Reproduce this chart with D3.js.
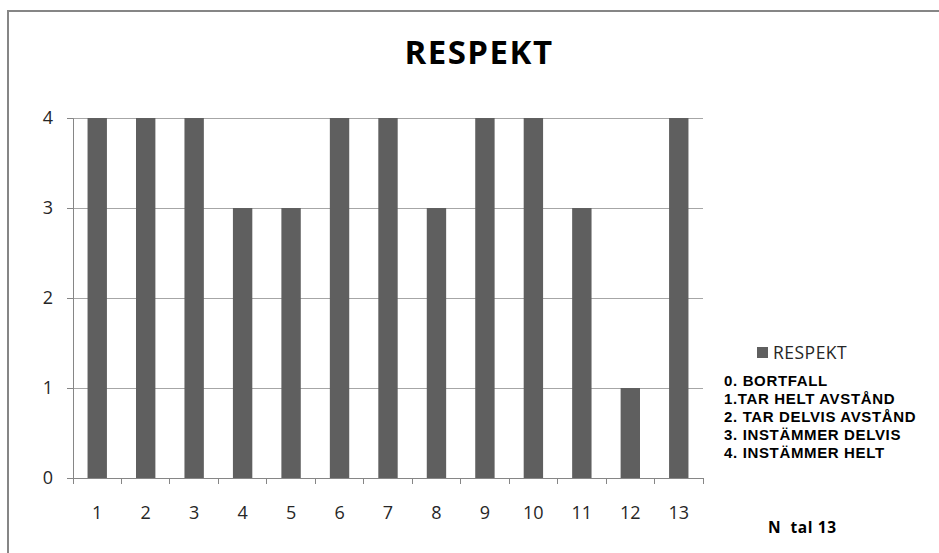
<!DOCTYPE html>
<html><head><meta charset="utf-8">
<script src="https://cdn.jsdelivr.net/npm/d3@7"></script>
<style>
html,body{margin:0;padding:0;background:#fff;overflow:hidden}
text{font-family:"Open Sans",sans-serif}
</style></head>
<body>
<svg id="c" width="939" height="553"></svg>
<script>
const categories = ["1","2","3","4","5","6","7","8","9","10","11","12","13"];
const values = [4,4,4,3,3,4,4,3,4,4,3,1,4];
const yTicks = [0,1,2,3,4];
const seriesName = "RESPEKT";
const chartTitle = "RESPEKT";
const scaleNotes = ["0. BORTFALL","1.TAR HELT AVSTÅND","2. TAR DELVIS AVSTÅND","3. INSTÄMMER DELVIS","4. INSTÄMMER HELT"];
const countNote = "N  tal 13";

const svg = d3.select("#c");
// outer frame
svg.append("rect").attr("x",8).attr("y",11).attr("width",960).attr("height",600)
  .attr("fill","none").attr("stroke","#868686").attr("stroke-width",2);

svg.append("text").attr("x",479).attr("y",64).attr("text-anchor","middle")
  .attr("font-size",33).attr("font-weight","bold").attr("letter-spacing",1.5)
  .attr("fill","#000").text(chartTitle);

const x = d3.scaleBand().domain(categories).range([73,703]).paddingInner(0.6).paddingOuter(0.3);
const y = d3.scaleLinear().domain([0,4]).range([478,118]);

// gridlines
svg.append("g").selectAll("line").data(yTicks.filter(d=>d>0)).join("line")
  .attr("x1",67).attr("x2",703).attr("y1",d=>y(d)).attr("y2",d=>y(d))
  .attr("stroke","#a6a6a6").attr("stroke-width",1).attr("shape-rendering","crispEdges");

// y axis
const yAxis = d3.axisLeft(y).tickValues(yTicks).tickSize(6).tickPadding(14).tickFormat(d3.format("d"));
const gy = svg.append("g").attr("transform","translate(73,0)").call(yAxis);
gy.select(".domain").attr("stroke","#868686");
gy.selectAll(".tick line").attr("stroke","#868686");
gy.selectAll(".tick text").attr("font-size",18).attr("fill","#262626").attr("font-family","Open Sans");

// bars
svg.append("g").selectAll("rect").data(values).join("rect")
  .attr("x",(d,i)=>x(categories[i])).attr("width",x.bandwidth())
  .attr("y",d=>y(d)).attr("height",d=>y(0)-y(d)).attr("fill","#5f5f5f");

// x axis
const xb = d3.scaleLinear().domain([0,categories.length]).range([73,703]);
const gx = svg.append("g").attr("transform","translate(0,478)");
gx.append("line").attr("x1",73).attr("x2",703).attr("stroke","#868686").attr("shape-rendering","crispEdges");
gx.selectAll("line.t").data(d3.range(categories.length+1)).join("line").attr("class","t")
  .attr("x1",d=>xb(d)).attr("x2",d=>xb(d)).attr("y1",0).attr("y2",6)
  .attr("stroke","#868686").attr("shape-rendering","crispEdges");
gx.selectAll("text").data(categories).join("text")
  .attr("x",d=>x(d)+x.bandwidth()/2).attr("y",41).attr("text-anchor","middle")
  .attr("font-size",18).attr("fill","#262626").text(d=>d);

// legend
const lg = svg.append("g");
lg.append("rect").attr("x",757).attr("y",347).attr("width",11).attr("height",11).attr("fill","#5f5f5f");
lg.append("text").attr("x",773).attr("y",359).attr("font-size",17.5).attr("letter-spacing",0.5)
  .attr("fill","#262626").text(seriesName);

svg.append("g").selectAll("text").data(scaleNotes).join("text")
  .attr("x",724).attr("y",(d,i)=>386+i*18).attr("font-size",15).attr("font-weight","bold")
  .style("font-family","'Liberation Sans', Arial, sans-serif")
  .attr("letter-spacing",0.65).attr("fill","#000").text(d=>d);

svg.append("text").attr("x",768).attr("y",533).attr("font-size",15.5).attr("font-weight","bold")
  .attr("letter-spacing",0.6).attr("fill","#000").attr("xml:space","preserve").style("white-space","pre").text(countNote);
</script>
</body></html>
